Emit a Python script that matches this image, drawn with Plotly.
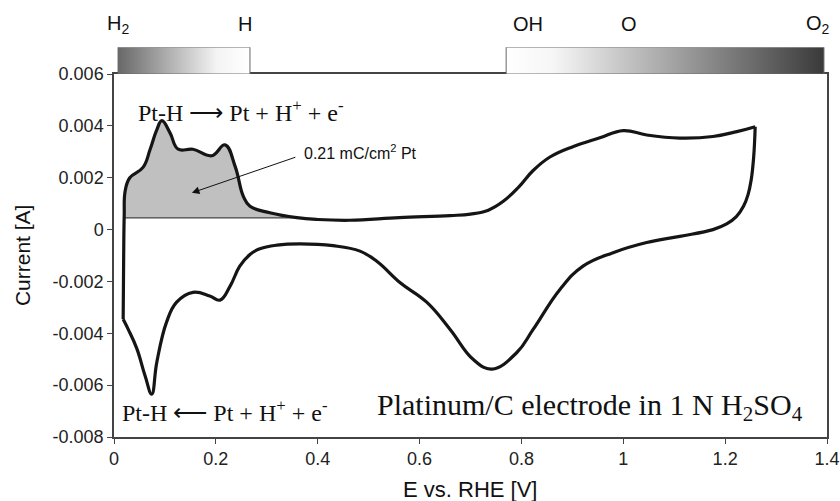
import plotly.graph_objects as go

# Cyclic voltammogram of Pt/C in 1 N H2SO4 (potential in V vs. RHE, current in A)
anodic_E = [0.018, 0.019, 0.020, 0.022, 0.031, 0.057, 0.071, 0.084, 0.094, 0.110, 0.126,
            0.155, 0.192, 0.218, 0.238, 0.254, 0.267, 0.306, 0.359, 0.400, 0.463, 0.560,
            0.660, 0.700, 0.735, 0.765, 0.795, 0.823, 0.856, 0.901, 0.954, 1.000, 1.046,
            1.111, 1.176, 1.223, 1.259]
anodic_I = [-0.00346, -0.00100, 0.00050, 0.00150, 0.00200, 0.00240, 0.00310, 0.00385,
            0.00420, 0.00373, 0.00310, 0.00310, 0.00285, 0.00327, 0.00243, 0.00128,
            0.00090, 0.00065, 0.00046, 0.00039, 0.00036, 0.00046, 0.00054, 0.00060,
            0.00075, 0.00110, 0.00165, 0.00228, 0.00280, 0.00320, 0.00354, 0.00382,
            0.00365, 0.00353, 0.00359, 0.00378, 0.00397]

cathodic_E = [1.259, 1.256, 1.251, 1.245, 1.236, 1.222, 1.203, 1.176, 1.111, 1.046, 0.980,
              0.921, 0.876, 0.823, 0.791, 0.742, 0.705, 0.660, 0.614, 0.562, 0.516, 0.483,
              0.430, 0.365, 0.320, 0.285, 0.267, 0.247, 0.228, 0.208, 0.188, 0.155, 0.123,
              0.103, 0.084, 0.074, 0.061, 0.045, 0.028, 0.018]
cathodic_I = [0.00397, 0.00280, 0.00190, 0.00135, 0.00090, 0.00050, 0.00022, 0.00000,
              -0.00026, -0.00050, -0.00089, -0.00141, -0.00230, -0.00385, -0.00474,
              -0.00538, -0.00500, -0.00385, -0.00280, -0.00205, -0.00122, -0.00083,
              -0.00062, -0.00055, -0.00060, -0.00075, -0.00096, -0.00141, -0.00218,
              -0.00272, -0.00256, -0.00242, -0.00280, -0.00358, -0.00512, -0.00635,
              -0.00564, -0.00460, -0.00385, -0.00346]

# Hydrogen desorption charge region (baseline and its extent)
hdes_baseline = 0.00045
hdes_start, hdes_end = 0.020, 0.359

# Axis ticks
x_ticks = [0, 0.2, 0.4, 0.6, 0.8, 1.0, 1.2, 1.4]
x_ticktext = ["0", "0.2", "0.4", "0.6", "0.8", "1", "1.2", "1.4"]
y_ticks = [0.006, 0.004, 0.002, 0, -0.002, -0.004, -0.006, -0.008]
y_ticktext = ["0.006", "0.004", "0.002", "0", "-0.002", "-0.004", "-0.006", "-0.008"]

# Adsorbate coverage bars above the plot
h_bar = (0.008, 0.267)
o_bar = (0.770, 1.394)
species_labels = ["H<sub>2</sub>", "H", "OH", "O", "O<sub>2</sub>"]
species_pos = [0.008, 0.257, 0.813, 1.011, 1.382]

SANS = "Liberation Sans, Arial, sans-serif"
SERIF = "Liberation Serif, Times New Roman, serif"
CURVE = dict(color="#151515", width=3.2, shape="spline", smoothing=1.2)

fig = go.Figure()

# Shaded desorption area between the baseline and the anodic sweep
fig.add_trace(go.Scatter(x=[hdes_start, hdes_end], y=[hdes_baseline, hdes_baseline],
                         mode="lines", line=dict(color="#222222", width=1),
                         hoverinfo="skip", showlegend=False))
seg_E = [hdes_start]
seg_I = [hdes_baseline]
for e, i in zip(anodic_E, anodic_I):
    if hdes_start < e < hdes_end and i >= hdes_baseline:
        seg_E.append(e)
        seg_I.append(i)
seg_E.append(hdes_end)
seg_I.append(hdes_baseline)
fig.add_trace(go.Scatter(x=seg_E, y=seg_I, mode="lines", fill="tonexty",
                         fillcolor="#c0c0c0",
                         line=dict(width=0, shape="spline", smoothing=1.2),
                         hoverinfo="skip", showlegend=False))

# Anodic and cathodic sweeps (separate so the turning points stay sharp)
fig.add_trace(go.Scatter(x=anodic_E, y=anodic_I, mode="lines", line=CURVE,
                         showlegend=False))
fig.add_trace(go.Scatter(x=cathodic_E, y=cathodic_I, mode="lines", line=CURVE,
                         showlegend=False))

# Gradient bars on an auxiliary axis above the main plot
fig.add_trace(go.Scatter(x=[h_bar[0], h_bar[1], h_bar[1], h_bar[0], h_bar[0]],
                         y=[0, 0, 1, 1, 0], xaxis="x2", yaxis="y2", mode="lines",
                         fill="toself", line=dict(color="#666666", width=1),
                         fillgradient=dict(type="horizontal", start=h_bar[0], stop=h_bar[1],
                                           colorscale=[[0, "#686868"], [0.75, "#f4f4f4"],
                                                       [1, "#ffffff"]]),
                         showlegend=False, hoverinfo="skip"))
fig.add_trace(go.Scatter(x=[o_bar[0], o_bar[1], o_bar[1], o_bar[0], o_bar[0]],
                         y=[0, 0, 1, 1, 0], xaxis="x2", yaxis="y2", mode="lines",
                         fill="toself", line=dict(color="#666666", width=1),
                         fillgradient=dict(type="horizontal", start=o_bar[0], stop=o_bar[1],
                                           colorscale=[[0, "#ffffff"], [0.15, "#f6f6f6"],
                                                       [1, "#3a3a3a"]]),
                         showlegend=False, hoverinfo="skip"))

annotations = []
for lab, pos in zip(species_labels, species_pos):
    annotations.append(dict(x=pos, y=0.967, xref="x", yref="paper", text=lab,
                            showarrow=False, font=dict(family=SANS, size=20, color="#111"),
                            xanchor="center", yanchor="middle"))

annotations += [
    dict(x=0.043, y=0.00458, xref="x", yref="y", xanchor="left", yanchor="middle",
         text="Pt-H \u27f6 Pt + H<sup>+</sup> + e<sup>-</sup>", showarrow=False,
         font=dict(family=SERIF, size=24, color="#111")),
    dict(x=0.012, y=-0.00700, xref="x", yref="y", xanchor="left", yanchor="middle",
         text="Pt-H \u27f5 Pt + H<sup>+</sup> + e<sup>-</sup>", showarrow=False,
         font=dict(family=SERIF, size=24, color="#111")),
    dict(x=1.356, y=-0.00686, xref="x", yref="y", xanchor="right", yanchor="middle",
         text="Platinum/C electrode in 1 N H<sub>2</sub>SO<sub>4</sub>", showarrow=False,
         font=dict(family=SERIF, size=30, color="#111")),
    dict(x=0.369, y=0.0030, xref="x", yref="y", xanchor="left", yanchor="middle",
         text="0.21 mC/cm<sup>2</sup> Pt", showarrow=False,
         font=dict(family=SANS, size=16, color="#111")),
    dict(x=0.153, y=0.00142, ax=0.359, ay=0.00281, xref="x", yref="y", axref="x", ayref="y",
         text="", showarrow=True, arrowhead=2, arrowsize=1.5, arrowwidth=1,
         arrowcolor="#111"),
    dict(x=-0.129, y=0.426, xref="paper", yref="paper", text="Current [A]", textangle=-90,
         showarrow=False, font=dict(family=SANS, size=21, color="#111"),
         xanchor="center", yanchor="middle"),
    dict(x=0.499, y=-0.124, xref="paper", yref="paper", text="E vs. RHE [V]",
         showarrow=False, font=dict(family=SANS, size=22, color="#111"),
         xanchor="center", yanchor="middle"),
]

fig.update_layout(
    width=840, height=501,
    margin=dict(l=114, r=13, t=10, b=64, autoexpand=False),
    paper_bgcolor="white", plot_bgcolor="white",
    annotations=annotations,
    xaxis=dict(range=[0, 1.4], domain=[0, 1], tickvals=x_ticks, ticktext=x_ticktext,
               showgrid=False, zeroline=False, showline=True, linecolor="#444",
               linewidth=1.5, mirror=True, ticks="outside", ticklen=5, tickcolor="#444",
               tickfont=dict(family=SANS, size=18, color="#222")),
    yaxis=dict(range=[-0.008, 0.006], domain=[0, 0.850], tickvals=y_ticks,
               ticktext=y_ticktext, showgrid=False, zeroline=False, showline=True,
               linecolor="#444", linewidth=1.5, mirror=True, ticks="outside", ticklen=5,
               tickcolor="#444", tickfont=dict(family=SANS, size=18, color="#222")),
    xaxis2=dict(range=[0, 1.4], domain=[0, 1], anchor="y2", visible=False),
    yaxis2=dict(range=[0, 1], domain=[0.850, 0.913], anchor="x2", visible=False),
)

fig.write_html("out.html")
